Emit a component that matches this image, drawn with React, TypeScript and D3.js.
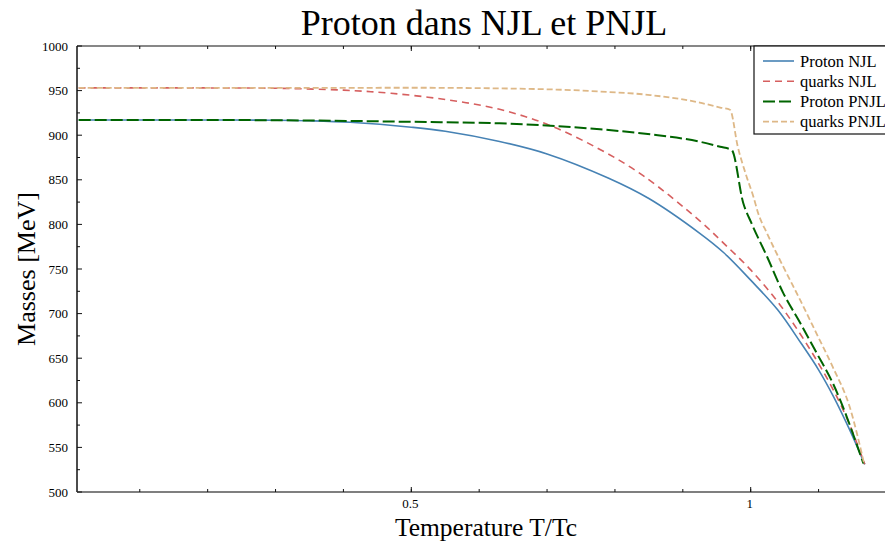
import React from "react";
import * as d3 from "d3";

const protonNJL_T = [0.01, 0.1, 0.2, 0.3, 0.35, 0.41, 0.5, 0.55, 0.63, 0.7, 0.79, 0.85, 0.925, 0.96, 1.0, 1.04, 1.074, 1.1, 1.122, 1.145, 1.168];
const protonNJL_M = [917, 917, 917, 916.8, 916.2, 914.5, 909, 904.5, 893, 879, 852, 829, 790, 768.5, 737.5, 704, 667, 637, 607, 571, 531];

const quarksNJL_T = [0.01, 0.2, 0.3, 0.4, 0.47, 0.55, 0.63, 0.704, 0.778, 0.841, 0.925, 0.96, 1.0, 1.04, 1.074, 1.1, 1.122, 1.145, 1.168];
const quarksNJL_M = [953, 953, 952.6, 950.5, 947, 940, 929, 911, 884, 855, 804, 779, 749, 713, 676, 644, 614, 577, 531];

const protonPNJL_T = [0.01, 0.2, 0.35, 0.5, 0.63, 0.778, 0.852, 0.925, 0.955, 0.972, 0.989, 1.001, 1.024, 1.048, 1.073, 1.097, 1.121, 1.166];
const protonPNJL_M = [917, 917, 916.5, 915, 913.3, 906.6, 901, 892.7, 887, 883.4, 824, 801.6, 764, 723, 689.5, 656, 622, 532];

const quarksPNJL_T = [0.01, 0.3, 0.5, 0.63, 0.778, 0.852, 0.925, 0.955, 0.9695, 0.981, 0.994, 1.004, 1.011, 1.024, 1.048, 1.073, 1.097, 1.121, 1.146, 1.167];
const quarksPNJL_M = [953, 953, 953.2, 952.5, 949, 945, 936.5, 931, 928.5, 887, 853.5, 831, 812.6, 790, 752.6, 715, 677.6, 640, 595, 532];

const yTickLabels = [500, 550, 600, 650, 700, 750, 800, 850, 900, 950, 1000];
const xTickLabels = [0.5, 1];
const seriesNames = ["Proton NJL", "quarks NJL", "Proton PNJL", "quarks PNJL"];

const W = 885, H = 544;
const left = 77, top = 46, bottom = 492;

export default function App() {
  const x = d3.scaleLinear().domain([0.5, 1]).range([411.3, 750.7]);
  const y = d3.scaleLinear().domain([500, 1000]).range([bottom, top]);

  const series = [
    { name: seriesNames[0], T: protonNJL_T, M: protonNJL_M, color: "#4682b4", dash: "none", w: 1.6, smooth: true },
    { name: seriesNames[1], T: quarksNJL_T, M: quarksNJL_M, color: "#d65f5f", dash: "7,5", w: 1.6, smooth: true },
    { name: seriesNames[2], T: protonPNJL_T, M: protonPNJL_M, color: "#006400", dash: "12,4", w: 2, smooth: false },
    { name: seriesNames[3], T: quarksPNJL_T, M: quarksPNJL_M, color: "#deb887", dash: "6,3", w: 1.8, smooth: false },
  ];

  const lineSmooth = d3.line<[number, number]>().x(d => x(d[0])).y(d => y(d[1])).curve(d3.curveCatmullRom.alpha(0.5));
  const lineMono = d3.line<[number, number]>().x(d => x(d[0])).y(d => y(d[1])).curve(d3.curveMonotoneX);

  const yMinor = d3.range(500, 1001, 25);
  const xMinorTicks = d3.range(0, 1.25, 0.1).filter(t => x(t) > left + 1 && x(t) < W);

  const font = "'Liberation Serif', 'DejaVu Serif', serif";

  return (
    <svg width={W} height={H} style={{ position: "absolute", left: 0, top: 0, background: "#fff" }} fontFamily={font}>
      <text x={484} y={35} fontSize={36} textAnchor="middle">Proton dans NJL et PNJL</text>
      <text x={486} y={536} fontSize={25.5} textAnchor="middle">Temperature T/Tc</text>
      <text transform={`translate(35,${(top + bottom) / 2}) rotate(-90)`} fontSize={26} textAnchor="middle">Masses [MeV]</text>

      <defs>
        <clipPath id="plotclip">
          <rect x={left} y={top} width={W - left} height={bottom - top} />
        </clipPath>
      </defs>

      <g clipPath="url(#plotclip)">
        {series.map(s => {
          const pts = s.T.map((t, i) => [t, s.M[i]] as [number, number]);
          return (
            <path key={s.name} d={(s.smooth ? lineSmooth(pts) : lineMono(pts)) || ""}
              fill="none" stroke={s.color} strokeWidth={s.w} strokeDasharray={s.dash} />
          );
        })}
      </g>

      {/* frame */}
      <line x1={left} x2={W} y1={top} y2={top} stroke="#111" strokeWidth={1.2} />
      <line x1={left} x2={left} y1={top} y2={bottom} stroke="#111" strokeWidth={1.5} />
      <line x1={left} x2={W} y1={bottom} y2={bottom} stroke="#555" strokeWidth={1.6} />

      {/* y ticks */}
      {yMinor.map(v => (
        <line key={"ym" + v} x1={left} x2={left + (v % 50 === 0 ? 5 : 3)} y1={y(v)} y2={y(v)} stroke="#111" strokeWidth={1} />
      ))}
      {yTickLabels.map(v => (
        <text key={"yl" + v} x={68} y={y(v) + 4.5} fontSize={13} textAnchor="end">{v}</text>
      ))}

      {/* x ticks */}
      {xMinorTicks.map(t => (
        <g key={"xm" + t}>
          <line x1={x(t)} x2={x(t)} y1={bottom} y2={bottom - 3} stroke="#111" strokeWidth={1} />
          <line x1={x(t)} x2={x(t)} y1={top} y2={top + 3} stroke="#111" strokeWidth={1} />
        </g>
      ))}
      {xTickLabels.map(t => (
        <g key={"xl" + t}>
          <line x1={x(t)} x2={x(t)} y1={bottom} y2={bottom - 5} stroke="#111" strokeWidth={1} />
          <line x1={x(t)} x2={x(t)} y1={top} y2={top + 5} stroke="#111" strokeWidth={1} />
          <text x={x(t) - 1} y={508} fontSize={13} textAnchor="middle">{t}</text>
        </g>
      ))}

      {/* legend */}
      <rect x={754} y={top} width={140} height={88} fill="#fff" stroke="#111" strokeWidth={1.2} />
      {series.map((s, i) => (
        <g key={"lg" + s.name} transform={`translate(0,${61 + i * 20.2})`}>
          <line x1={763} x2={794} y1={0} y2={0} stroke={s.color} strokeWidth={s.w} strokeDasharray={s.dash} />
          <text x={800} y={5.5} fontSize={16.5}>{s.name}</text>
        </g>
      ))}
    </svg>
  );
}
